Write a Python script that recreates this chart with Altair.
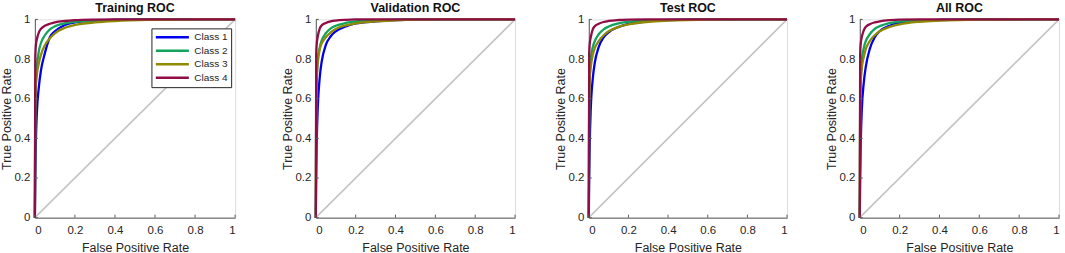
import altair as alt
import pandas as pd

# ---- data ----
panels = ["Training ROC", "Validation ROC", "Test ROC", "All ROC"]
classes = ["Class 1", "Class 2", "Class 3", "Class 4"]
colors = ["#0000EE", "#12A35C", "#8F8A00", "#900C45"]
ticks = [0, 0.2, 0.4, 0.6, 0.8, 1]

fpr = [0, 0.002, 0.005, 0.01, 0.02, 0.03, 0.05, 0.075, 0.1, 0.15, 0.2, 0.3, 0.4, 0.6, 0.8, 1.0]

train_c1 = [0, 0.20, 0.38, 0.53, 0.66, 0.74, 0.83, 0.91, 0.94, 0.972, 0.985, 0.994, 0.998, 1, 1, 1]
train_c2 = [0, 0.55, 0.68, 0.76, 0.84, 0.88, 0.92, 0.95, 0.965, 0.98, 0.988, 0.995, 0.998, 1, 1, 1]
train_c3 = [0, 0.55, 0.66, 0.72, 0.78, 0.82, 0.87, 0.905, 0.93, 0.958, 0.972, 0.985, 0.992, 0.998, 1, 1]
train_c4 = [0, 0.80, 0.87, 0.90, 0.935, 0.952, 0.968, 0.978, 0.985, 0.992, 0.996, 0.999, 1, 1, 1, 1]

val_c1 = [0, 0.22, 0.40, 0.56, 0.71, 0.79, 0.87, 0.915, 0.94, 0.965, 0.98, 0.99, 0.996, 1, 1, 1]
val_c2 = [0, 0.58, 0.72, 0.80, 0.86, 0.895, 0.93, 0.955, 0.968, 0.982, 0.99, 0.996, 0.999, 1, 1, 1]
val_c3 = [0, 0.56, 0.70, 0.78, 0.85, 0.88, 0.91, 0.935, 0.952, 0.97, 0.98, 0.99, 0.995, 1, 1, 1]
val_c4 = [0, 0.82, 0.88, 0.915, 0.955, 0.97, 0.982, 0.99, 0.994, 0.998, 1, 1, 1, 1, 1, 1]

test_c1 = [0, 0.20, 0.38, 0.55, 0.70, 0.78, 0.86, 0.91, 0.935, 0.962, 0.978, 0.99, 0.996, 1, 1, 1]
test_c2 = [0, 0.60, 0.72, 0.80, 0.86, 0.89, 0.925, 0.95, 0.964, 0.98, 0.988, 0.995, 0.998, 1, 1, 1]
test_c3 = [0, 0.58, 0.70, 0.76, 0.82, 0.855, 0.89, 0.92, 0.94, 0.962, 0.975, 0.988, 0.994, 0.999, 1, 1]
test_c4 = [0, 0.82, 0.88, 0.91, 0.95, 0.965, 0.978, 0.987, 0.992, 0.997, 0.999, 1, 1, 1, 1, 1]

all_c1 = [0, 0.20, 0.38, 0.54, 0.68, 0.76, 0.85, 0.91, 0.94, 0.968, 0.982, 0.992, 0.997, 1, 1, 1]
all_c2 = [0, 0.58, 0.70, 0.79, 0.855, 0.89, 0.925, 0.952, 0.966, 0.981, 0.989, 0.995, 0.998, 1, 1, 1]
all_c3 = [0, 0.56, 0.68, 0.75, 0.81, 0.85, 0.89, 0.92, 0.94, 0.962, 0.975, 0.988, 0.994, 0.999, 1, 1]
all_c4 = [0, 0.82, 0.88, 0.91, 0.945, 0.962, 0.976, 0.985, 0.99, 0.996, 0.999, 1, 1, 1, 1, 1]

diag = [0, 1]

panel_series = [
    [train_c1, train_c2, train_c3, train_c4],
    [val_c1, val_c2, val_c3, val_c4],
    [test_c1, test_c2, test_c3, test_c4],
    [all_c1, all_c2, all_c3, all_c4],
]
widths = [201, 200, 199, 200]
H = 199

FONT = "Liberation Sans"
TXT = "#262626"
AXC = "#5a5a5a"

sc = alt.Scale(domain=[0, 1], nice=False, zero=False)
ax_x = alt.Axis(values=ticks, title="False Positive Rate", grid=False, ticks=False,
                labelExpr="format(datum.value, '')", domainColor=AXC, labelPadding=7,
                titlePadding=5, labelFontSize=11.5, titleFontSize=12.5, titleFontWeight="normal",
                labelColor=TXT, titleColor=TXT, labelFont=FONT, titleFont=FONT)
ax_y = alt.Axis(values=ticks, title="True Positive Rate", grid=False, ticks=False,
                labelExpr="format(datum.value, '')", domainColor=AXC, labelPadding=5,
                titlePadding=1, labelFontSize=11.5, titleFontSize=12.5, titleFontWeight="normal",
                labelColor=TXT, titleColor=TXT, labelFont=FONT, titleFont=FONT,
                minExtent=20, maxExtent=20)


def make_panel(i):
    title = panels[i]
    rows = []
    for cls, tpr in zip(classes, panel_series[i]):
        for f, t in zip(fpr, tpr):
            rows.append({"fpr": f, "tpr": t, "cls": cls})
    df = pd.DataFrame(rows)
    ddf = pd.DataFrame({"fpr": diag, "tpr": diag})
    xt = pd.DataFrame({"fpr": ticks})
    yt = pd.DataFrame({"tpr": ticks})

    X = alt.X("fpr:Q", scale=sc, axis=ax_x)
    Y = alt.Y("tpr:Q", scale=sc, axis=ax_y)

    if i == 0:
        legend = alt.Legend(title=None, orient="none", legendX=117, legendY=9,
                            strokeColor=TXT, fillColor="white", padding=3,
                            symbolType="stroke", symbolSize=1100, symbolStrokeWidth=2.5,
                            clipHeight=12, rowPadding=1.5, labelFontSize=10,
                            labelOffset=4, labelFont=FONT, labelColor=TXT)
    else:
        legend = None

    diag_l = alt.Chart(ddf).mark_line(color="#c6c6c6", strokeWidth=1.7).encode(x=X, y=Y)
    curves = alt.Chart(df).mark_line(strokeWidth=2.3, interpolate="monotone").encode(
        x=X, y=Y,
        color=alt.Color("cls:N", scale=alt.Scale(domain=classes, range=colors), legend=legend),
    )
    xticks = alt.Chart(xt).mark_rule(color=AXC, strokeWidth=1).encode(
        x=X, y=alt.value(H), y2=alt.value(H - 3))
    yticks = alt.Chart(yt).mark_rule(color=AXC, strokeWidth=1).encode(
        y=Y, x=alt.value(0), x2=alt.value(3))

    return alt.layer(diag_l, curves, xticks, yticks).properties(
        width=widths[i], height=H,
        title=alt.TitleParams(title, fontSize=12.5, fontWeight="bold", font=FONT,
                              color="#111111", offset=0, dy=1.5),
    ).resolve_legend(color="independent")


p = [make_panel(i) for i in range(4)]
chart = alt.hconcat(
    p[0],
    alt.hconcat(p[1], alt.hconcat(p[2], p[3], spacing=32).resolve_legend(color="independent"),
                spacing=33).resolve_legend(color="independent"),
    spacing=40,
).resolve_legend(color="independent").properties(
    padding={"left": 0, "top": 1, "right": 0, "bottom": 0}
).configure_view(stroke=None).configure(background="white")

chart.save("out.html", embed_options={"renderer": "svg", "actions": False})
